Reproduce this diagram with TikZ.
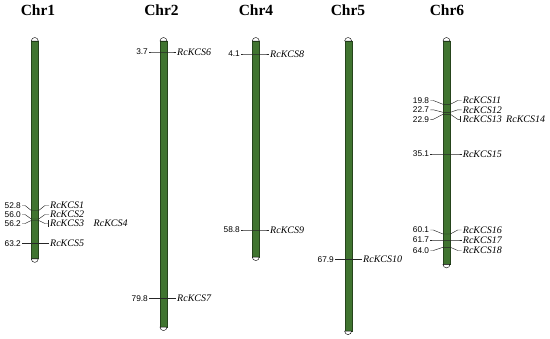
\documentclass[tikz,border=0pt]{standalone}
\usepackage{fontspec}
\setmainfont{Liberation Serif}
\newfontfamily\numfont{Liberation Sans}
\usepackage{xcolor}
\usepackage{tikz}
\usetikzlibrary{positioning,calc}

\definecolor{chrgreen}{RGB}{64,116,48}
\definecolor{chredge}{RGB}{38,68,28}

\begin{document}
\begin{tikzpicture}[
    x=1pt, y=-1pt,
    chrom/.style={rectangle, draw=chredge, fill=chrgreen, line width=0.4pt, minimum width=7pt, inner sep=0pt, anchor=north},
    telo/.style={draw=black, fill=white, line width=0.4pt},
    chrname/.style={font=\fontsize{15.5}{16}\selectfont\bfseries, anchor=base},
    locus/.style={font=\numfont\fontsize{8.3}{9}\selectfont, inner sep=1pt, anchor=east},
    gene/.style={font=\fontsize{10}{11}\selectfont\itshape, inner sep=1pt, anchor=west},
    link/.style={draw=black!85, line width=0.45pt},
]
    \useasboundingbox (0,0) rectangle (550,339);

    % Chromosomes
    \node[chrom, minimum height=217.5pt] (c1) at (35,41) {};
    \node[chrom, minimum height=285.7pt] (c2) at (163.7,41) {};
    \node[chrom, minimum height=215.7pt] (c4) at (256,41) {};
    \node[chrom, minimum height=289.7pt] (c5) at (348.3,41) {};
    \node[chrom, minimum height=223pt] (c6) at (446.7,41) {};
    \foreach \c in {c1,c2,c4,c5,c6} {
        \draw[telo] (\c.north west) arc[start angle=180, end angle=0, radius=3.5pt] -- cycle;
        \draw[telo] (\c.south west) arc[start angle=180, end angle=360, radius=3.5pt] -- cycle;
    }

    % Chromosome names
    \node[chrname] (n1) at (38,15.5) {Chr1};
    \node[chrname] (n2) at (161.5,15.5) {Chr2};
    \node[chrname] (n4) at (256,15.5) {Chr4};
    \node[chrname] (n5) at (348,15.5) {Chr5};
    \node[chrname] (n6) at (447,15.5) {Chr6};

    % Chr1
    \coordinate (t1) at (35,210.5);
    \coordinate (t2) at (35,219);
    \coordinate (t3) at (35,220.5);
    \coordinate (t5) at (35,243.5);
    \node[locus] (p1) at (22,205.5) {52.8};
    \node[locus] (p2) at (22,214.5) {56.0};
    \node[locus] (p3) at (22,223.5) {56.2};
    \node[locus] (p5) at (22,243.5) {63.2};
    \node[gene] (g1) at (49,205.5) {RcKCS1};
    \node[gene] (g2) at (49,214.5) {RcKCS2};
    \node[gene] (g3) at (49,223.5) {RcKCS3};
    \node[gene] (g4) at (92.5,223.5) {RcKCS4};
    \node[gene] (g5) at (49,243.5) {RcKCS5};

    % Chr2
    \coordinate (t6) at (163.7,52);
    \coordinate (t7) at (163.7,298.3);
    \node[locus] (p6) at (149,52) {3.7};
    \node[locus] (p7) at (149,298.3) {79.8};
    \node[gene] (g6) at (176,52) {RcKCS6};
    \node[gene] (g7) at (176,298.3) {RcKCS7};

    % Chr4
    \coordinate (t8) at (256,54);
    \coordinate (t9) at (256,230);
    \node[locus] (p8) at (241,54) {4.1};
    \node[locus] (p9) at (241,230) {58.8};
    \node[gene] (g8) at (269,54) {RcKCS8};
    \node[gene] (g9) at (269,230) {RcKCS9};

    % Chr5
    \coordinate (t10) at (348.3,259.5);
    \node[locus] (p10) at (335,259.5) {67.9};
    \node[gene] (g10) at (362,259.5) {RcKCS10};

    % Chr6
    \coordinate (t11) at (446.7,104.3);
    \coordinate (t12) at (446.7,112.3);
    \coordinate (t13) at (446.7,114.3);
    \coordinate (t15) at (446.7,154);
    \coordinate (t16) at (446.7,234);
    \coordinate (t17) at (446.7,240);
    \coordinate (t18) at (446.7,247.3);
    \node[locus] (p11) at (430.3,100.5) {19.8};
    \node[locus] (p12) at (430.3,109.8) {22.7};
    \node[locus] (p13) at (430.3,119.3) {22.9};
    \node[locus] (p15) at (430.3,154) {35.1};
    \node[locus] (p16) at (430.3,230) {60.1};
    \node[locus] (p17) at (430.3,240) {61.7};
    \node[locus] (p18) at (430.3,250.5) {64.0};
    \node[gene] (g11) at (461.7,100.5) {RcKCS11};
    \node[gene] (g12) at (461.7,109.8) {RcKCS12};
    \node[gene] (g13) at (461.7,119.3) {RcKCS13};
    \node[gene] (g14) at (505,119.3) {RcKCS14};
    \node[gene] (g15) at (461.7,154) {RcKCS15};
    \node[gene] (g16) at (461.7,230) {RcKCS16};
    \node[gene] (g17) at (461.7,240) {RcKCS17};
    \node[gene] (g18) at (461.7,250.5) {RcKCS18};

    % Marker lines
    \draw[link] (p1.east) -- ++(3,0) -- (t1 -| c1.west) -- (t1 -| c1.east) -- ([xshift=-4pt]g1.west) -- (g1.west);
    \draw[link] (p2.east) -- ++(3,0) -- (t2 -| c1.west) -- (t2 -| c1.east) -- ([xshift=-4pt]g2.west) -- (g2.west);
    \draw[link] (p3.east) -- ++(3,0) -- (t3 -| c1.west) -- (t3 -| c1.east) -- ([xshift=-4pt]g3.west) -- ([xshift=-1pt]g3.west);
    \draw[link] ([xshift=-1pt,yshift=3.2pt]g3.west) -- ([xshift=-1pt,yshift=-3.2pt]g3.west);
    \draw[link] (p5.east) -- ++(3,0) -- (t5 -| c1.west) -- (t5 -| c1.east) -- ([xshift=-4pt]g5.west) -- (g5.west);
    \draw[link] (p6.east) -- ++(3,0) -- (t6 -| c2.west) -- (t6 -| c2.east) -- ([xshift=-4pt]g6.west) -- (g6.west);
    \draw[link] (p7.east) -- ++(3,0) -- (t7 -| c2.west) -- (t7 -| c2.east) -- ([xshift=-4pt]g7.west) -- (g7.west);
    \draw[link] (p8.east) -- ++(3,0) -- (t8 -| c4.west) -- (t8 -| c4.east) -- ([xshift=-4pt]g8.west) -- (g8.west);
    \draw[link] (p9.east) -- ++(3,0) -- (t9 -| c4.west) -- (t9 -| c4.east) -- ([xshift=-4pt]g9.west) -- (g9.west);
    \draw[link] (p10.east) -- ++(3,0) -- (t10 -| c5.west) -- (t10 -| c5.east) -- ([xshift=-4pt]g10.west) -- (g10.west);
    \draw[link] (p11.east) -- ++(3,0) -- (t11 -| c6.west) -- (t11 -| c6.east) -- ([xshift=-4pt]g11.west) -- (g11.west);
    \draw[link] (p12.east) -- ++(3,0) -- (t12 -| c6.west) -- (t12 -| c6.east) -- ([xshift=-4pt]g12.west) -- (g12.west);
    \draw[link] (p13.east) -- ++(3,0) -- (t13 -| c6.west) -- (t13 -| c6.east) -- ([xshift=-4pt]g13.west) -- ([xshift=-1pt]g13.west);
    \draw[link] ([xshift=-1pt,yshift=3.2pt]g13.west) -- ([xshift=-1pt,yshift=-3.2pt]g13.west);
    \draw[link] (p15.east) -- ++(3,0) -- (t15 -| c6.west) -- (t15 -| c6.east) -- ([xshift=-4pt]g15.west) -- (g15.west);
    \draw[link] (p16.east) -- ++(3,0) -- (t16 -| c6.west) -- (t16 -| c6.east) -- ([xshift=-4pt]g16.west) -- (g16.west);
    \draw[link] (p17.east) -- ++(3,0) -- (t17 -| c6.west) -- (t17 -| c6.east) -- ([xshift=-4pt]g17.west) -- (g17.west);
    \draw[link] (p18.east) -- ++(3,0) -- (t18 -| c6.west) -- (t18 -| c6.east) -- ([xshift=-4pt]g18.west) -- (g18.west);

\end{tikzpicture}
\end{document}
